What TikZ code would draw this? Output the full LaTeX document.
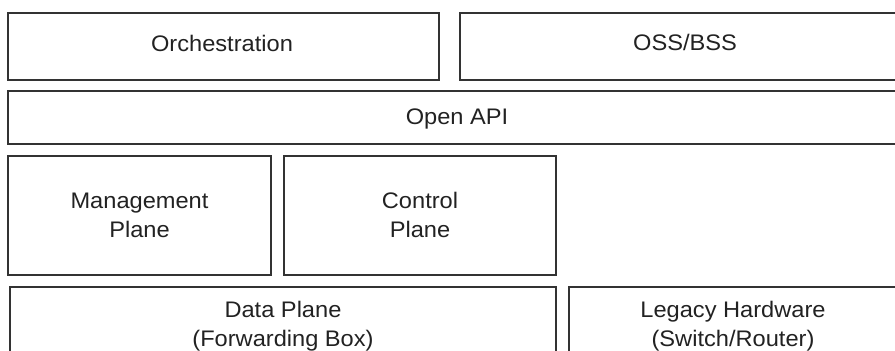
\documentclass[tikz,border=0pt]{standalone}
\usepackage{fontspec}
\newfontfamily\labfont[FakeStretch=1.05]{Liberation Sans}
\definecolor{linec}{HTML}{333333}
\definecolor{textc}{HTML}{222222}
\begin{document}
\begin{tikzpicture}[x=1pt,y=-1pt,
  layer/.style={draw=linec,line width=1.2pt},
  lab/.style={text=textc,font=\labfont\fontsize{22.5}{29}\selectfont,inner sep=0pt,anchor=base,align=center}]
\useasboundingbox (0,0) rectangle (895,351);
\clip (0,0) rectangle (895,351);
\fill[white] (0,0) rectangle (895,351);
% boxes
\draw[layer] (8,13) rectangle (439,80) coordinate (orchbox);
\draw[layer] (460,13) rectangle (910,80) coordinate (ossbox);
\draw[layer] (8,91) rectangle (910,144) coordinate (apibox);
\draw[layer] (8,156) rectangle (271,275) coordinate (mgmtbox);
\draw[layer] (284,156) rectangle (556,275) coordinate (ctrlbox);
\draw[layer] (10,287) rectangle (556,370) coordinate (databox);
\draw[layer] (569,287) rectangle (910,370) coordinate (legbox);
% labels (base anchor = baseline of last line)
\node[lab] (orch) at (222,51) {Orchestration};
\node[lab] (oss) at (685,50.5) {OSS/BSS};
\node[lab] (api) at (457,124) {Open API};
\node[lab] (mgmt) at (139.5,237) {Management\\Plane};
\node[lab] (ctrl) at (420,237) {Control\\Plane};
\node[lab] (data) at (283,346) {Data Plane\\(Forwarding Box)};
\node[lab] (leg) at (733,346) {Legacy Hardware\\(Switch/Router)};
\end{tikzpicture}
\end{document}
